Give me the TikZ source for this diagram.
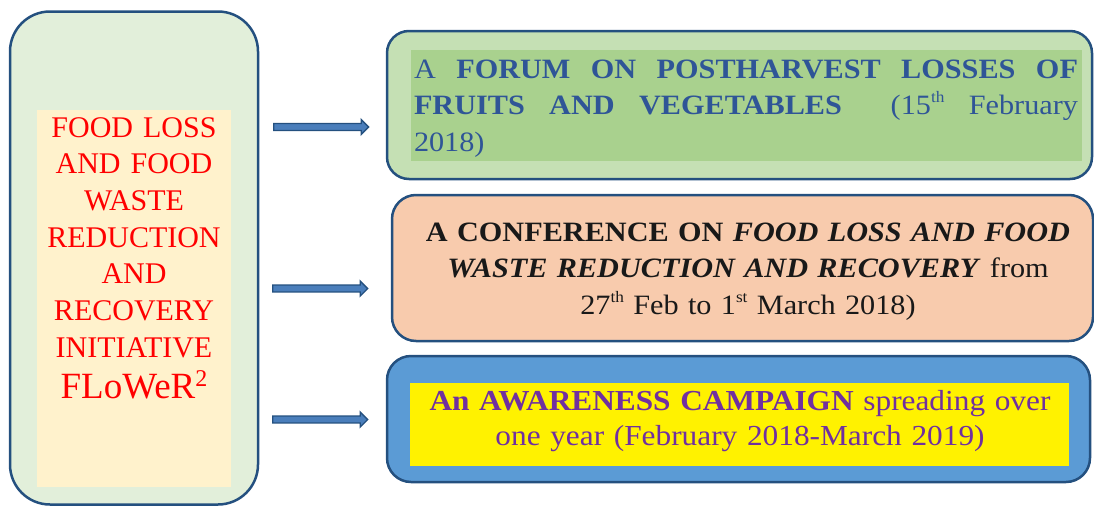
\documentclass[tikz,border=0pt]{standalone}
\usepackage{fontspec}
\setmainfont{Liberation Serif}
\newfontfamily\palfont{Liberation Serif}[FakeStretch=1.08]
\usetikzlibrary{shapes.arrows}
\definecolor{bordc}{HTML}{24507F}
\definecolor{leftfill}{HTML}{E2EFDA}
\definecolor{creamfill}{HTML}{FFF2CC}
\definecolor{grnout}{HTML}{C5E0B4}
\definecolor{grnin}{HTML}{A9D18E}
\definecolor{grntext}{HTML}{2F5597}
\definecolor{peach}{HTML}{F8CBAD}
\definecolor{bluefill}{HTML}{5B9BD5}
\definecolor{purp}{HTML}{7030A0}
\definecolor{arrfill}{HTML}{4A7EBB}
\newcommand{\supsm}[1]{\raisebox{0.42em}{\fontsize{16}{16}\selectfont #1}}
\begin{document}
\begin{tikzpicture}[x=1pt,y=-1pt,
  roundbox/.style={draw=bordc, line width=2.5pt, inner sep=0pt},
  innerrect/.style={inner sep=0pt, draw=none},
  blockarr/.style={single arrow, draw=bordc, fill=arrfill, line width=1.3pt,
    inner xsep=0pt, inner ysep=2.8pt, single arrow head extend=4pt,
    single arrow tip angle=90, minimum height=95pt, anchor=west},
  righttext/.style={inner sep=0pt, anchor=base,
    font=\palfont\fontsize{28}{36.5}\selectfont},
]
\useasboundingbox (0,0) rectangle (1094,506);
% left box
\node[roundbox, fill=leftfill, rounded corners=40pt, minimum width=248pt, minimum height=493pt] (L) at (134,258) {};
\node[innerrect, fill=creamfill, minimum width=194pt, minimum height=377pt] (Lin) at (134,298.5) {};
\node[inner sep=0pt, anchor=base, text width=194pt, align=center, text=red,
  font=\fontsize{30}{36.67}\selectfont] (Lt) at (134,137)
  {FOOD LOSS\\AND FOOD\\WASTE\\REDUCTION\\AND\\RECOVERY\\INITIATIVE\\[5.3pt]{\fontsize{37}{42}\selectfont FLoWeR\raisebox{12pt}{\fontsize{24}{24}\selectfont 2}}};
% right box 1
\node[roundbox, fill=grnout, rounded corners=22pt, minimum width=705pt, minimum height=148pt] (B1) at (739.5,105) {};
\node[innerrect, fill=grnin, minimum width=671pt, minimum height=111pt] (B1in) at (746.5,105.5) {};
\node[righttext, text=grntext, text width=664pt, align=justify] (B1t) at (746,78)
  {\tolerance=10000 A \textbf{FORUM ON POSTHARVEST LOSSES OF}\linebreak
   \textbf{FRUITS AND VEGETABLES}\ \ (15\supsm{th} February\linebreak 2018)};
% right box 2
\node[roundbox, fill=peach, rounded corners=24pt, minimum width=701pt, minimum height=146pt] (B2) at (742.5,268) {};
\node[righttext, text=black!90, text width=680pt, align=center] (B2t) at (748,241)
  {\textbf{A CONFERENCE ON \textit{FOOD LOSS AND FOOD}}\\
   \textbf{\textit{WASTE REDUCTION AND RECOVERY}} from\\
   27\supsm{th} Feb to 1\supsm{st} March 2018)};
% right box 3
\node[roundbox, fill=bluefill, rounded corners=24pt, minimum width=703pt, minimum height=126pt] (B3) at (738.5,419) {};
\node[innerrect, fill=yellow, minimum width=659pt, minimum height=83pt] (B3in) at (739.5,424.5) {};
\node[righttext, text=purp, text width=650pt, align=center,
  font=\palfont\fontsize{29}{35}\selectfont] (B3t) at (740,410)
  {\textbf{An AWARENESS CAMPAIGN} spreading over\\
   one year (February 2018-March 2019)};
% arrows
\node[blockarr] (A1) at (273,127) {};
\node[blockarr] (A2) at (272,288.5) {};
\node[blockarr] (A3) at (272,419.5) {};
\end{tikzpicture}
\end{document}
